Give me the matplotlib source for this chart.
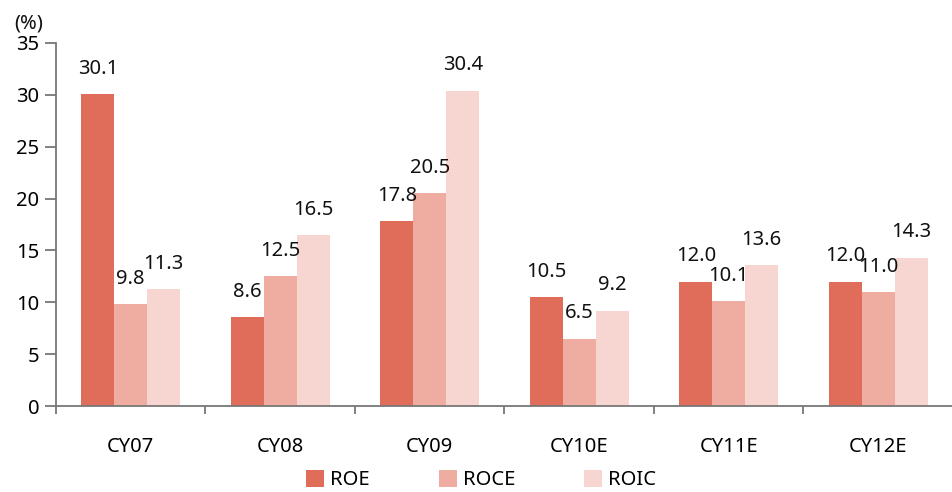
import matplotlib
matplotlib.use("Agg")
import matplotlib.pyplot as plt
import numpy as np

categories = ["CY07", "CY08", "CY09", "CY10E", "CY11E", "CY12E"]
roe = [30.1, 8.6, 17.8, 10.5, 12.0, 12.0]
roce = [9.8, 12.5, 20.5, 6.5, 10.1, 11.0]
roic = [11.3, 16.5, 30.4, 9.2, 13.6, 14.3]
series_names = ["ROE", "ROCE", "ROIC"]
colors = ["#E06C5A", "#EFACA0", "#F7D5D1"]

plt.rcParams["font.family"] = ["Noto Sans", "DejaVu Sans"]

W, H = 953, 492
fig = plt.figure(figsize=(W / 100, H / 100), dpi=100)
left, right, top, bottom = 56, 953, 43, 406
ax = fig.add_axes([left / W, (H - bottom) / H, (right - left) / W, (bottom - top) / H])

x = np.arange(len(categories))
bw = 0.22
offsets = [-bw, 0, bw]
for vals, off, col, name in zip([roe, roce, roic], offsets, colors, series_names):
    ax.bar(x + off, vals, width=bw, color=col, label=name)
    for xi, v in zip(x, vals):
        ax.annotate(f"{v:.1f}", (xi + off, v), xytext=(0, 11), textcoords="offset points",
                    ha="center", va="bottom", fontsize=14.5, color="#111111")

ax.set_xlim(-0.5, len(categories) - 0.5 - (956 - 953) / 150)
ax.set_ylim(0, 35)
ax.set_yticks(range(0, 36, 5))
ax.set_xticks(np.arange(-0.5, len(categories), 1.0))
ax.set_xticklabels([])
ax.set_xticks(x, minor=True)
ax.set_xticklabels(categories, minor=True)
ax.tick_params(axis="x", which="major", direction="out", length=6, color="#777777", width=1.3)
ax.tick_params(axis="x", which="minor", length=0, pad=22, labelsize=14.5)
ax.tick_params(axis="y", direction="out", length=8, color="#777777", width=1.3, labelsize=14.5, pad=4)

for s in ["top", "right"]:
    ax.spines[s].set_visible(False)
for s in ["left", "bottom"]:
    ax.spines[s].set_color("#777777")
    ax.spines[s].set_linewidth(1.3)

fig.text(14 / W, 1 - 23 / H, "(%)", fontsize=14.5, va="center", ha="left", color="#111111")

fig.legend(loc="center", bbox_to_anchor=(481 / W, 1 - 480 / H), ncol=3, frameon=False,
           fontsize=14.5, handlelength=0.9, handleheight=0.9, handletextpad=0.3, columnspacing=3.4)

fig.savefig("out.png", dpi=100)
